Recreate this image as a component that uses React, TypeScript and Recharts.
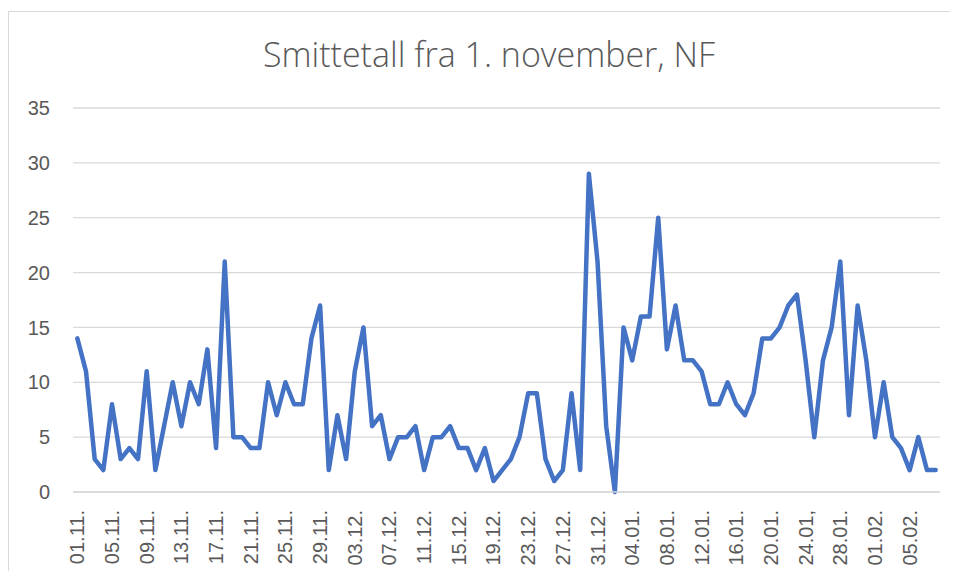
import { LineChart, Line, XAxis, YAxis, CartesianGrid } from 'recharts';

// daily labels as printed on the axis (note the comma on 24.01 in the original)
const novDates = [
  '01.11.', '02.11.', '03.11.', '04.11.', '05.11.', '06.11.', '07.11.', '08.11.', '09.11.', '10.11.',
  '11.11.', '12.11.', '13.11.', '14.11.', '15.11.', '16.11.', '17.11.', '18.11.', '19.11.', '20.11.',
  '21.11.', '22.11.', '23.11.', '24.11.', '25.11.', '26.11.', '27.11.', '28.11.', '29.11.', '30.11.',
];
const decDates = [
  '01.12.', '02.12.', '03.12.', '04.12.', '05.12.', '06.12.', '07.12.', '08.12.', '09.12.', '10.12.',
  '11.12.', '12.12.', '13.12.', '14.12.', '15.12.', '16.12.', '17.12.', '18.12.', '19.12.', '20.12.',
  '21.12.', '22.12.', '23.12.', '24.12.', '25.12.', '26.12.', '27.12.', '28.12.', '29.12.', '30.12.',
  '31.12.',
];
const janDates = [
  '01.01.', '02.01.', '03.01.', '04.01.', '05.01.', '06.01.', '07.01.', '08.01.', '09.01.', '10.01.',
  '11.01.', '12.01.', '13.01.', '14.01.', '15.01.', '16.01.', '17.01.', '18.01.', '19.01.', '20.01.',
  '21.01.', '22.01.', '23.01.', '24.01,', '25.01.', '26.01.', '27.01.', '28.01.', '29.01.', '30.01.',
  '31.01.',
];
const febDates = ['01.02.', '02.02.', '03.02.', '04.02.', '05.02.', '06.02.', '07.02.', '08.02.'];

const dates = [...novDates, ...decDates, ...janDates, ...febDates];

// new cases per day
const cases = [
  14, 11, 3, 2, 8, 3, 4, 3, 11, 2,
  6, 10, 6, 10, 8, 13, 4, 21, 5, 5,
  4, 4, 10, 7, 10, 8, 8, 14, 17, 2,
  7, 3, 11, 15, 6, 7, 3, 5, 5, 6,
  2, 5, 5, 6, 4, 4, 2, 4, 1, 2,
  3, 5, 9, 9, 3, 1, 2, 9, 2, 29,
  21, 6, 0, 15, 12, 16, 16, 25, 13, 17,
  12, 12, 11, 8, 8, 10, 8, 7, 9, 14,
  14, 15, 17, 18, 12, 5, 12, 15, 21, 7,
  17, 12, 5, 10, 5, 4, 2, 5, 2, 2,
];

const yTicks = [0, 5, 10, 15, 20, 25, 30, 35];

const data = dates.map((date, i) => ({ date, cases: cases[i] }));

const DateTick = (props: any) => {
  const { x, y, payload } = props;
  return (
    <text
      transform={`translate(${x}, ${y + 16}) rotate(-90)`}
      textAnchor="end"
      dominantBaseline="central"
      fill="#595959"
      fontSize={20}
      fontFamily="'Liberation Sans', Arial, sans-serif"
    >
      {payload.value}
    </text>
  );
};

const App = () => {
  return (
    <div style={{ position: 'relative', width: 942, height: 563, background: '#fff' }}>
      <div
        style={{
          position: 'absolute',
          left: 0,
          top: 3,
          right: 0,
          bottom: 0,
          borderTop: '1px solid #d9d9d9',
          borderLeft: '1px solid #d9d9d9',
        }}
      />
      <svg width={942} height={90} style={{ position: 'absolute', left: 0, top: 0 }}>
        <text
          x={481}
          y={59}
          textAnchor="middle"
          fill="#595959"
          fontSize={34}
          fontWeight={300}
          fontFamily="'Open Sans', sans-serif"
        >
          Smittetall fra 1. november, NF
        </text>
      </svg>
      <div style={{ position: 'absolute', left: 0, top: 0 }}>
        <LineChart width={942} height={563} data={data} margin={{ top: 100, right: 10, bottom: 9, left: 20 }}>
          <CartesianGrid vertical={false} stroke="#d9d9d9" strokeWidth={1.3} />
          <XAxis
            dataKey="date"
            scale="band"
            interval={3}
            height={70}
            tickLine={false}
            tickSize={0}
            stroke="#d9d9d9"
            strokeWidth={1.3}
            tick={<DateTick />}
          />
          <YAxis
            domain={[0, 35]}
            ticks={yTicks}
            width={45}
            axisLine={false}
            tickLine={false}
            tickSize={0}
            tickMargin={23}
            tick={{ fill: '#595959', fontSize: 20, fontFamily: "'Liberation Sans', Arial, sans-serif" }}
          />
          <Line
            type="linear"
            dataKey="cases"
            stroke="#4472C4"
            strokeWidth={4.5}
            strokeLinejoin="round"
            strokeLinecap="round"
            dot={false}
            isAnimationActive={false}
          />
        </LineChart>
      </div>
    </div>
  );
};

export default App;
